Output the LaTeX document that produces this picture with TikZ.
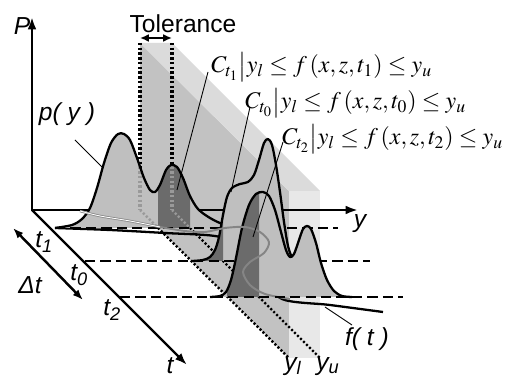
\documentclass[tikz,border=0pt]{standalone}
\usepackage{mathptmx}
\usepackage[no-math]{fontspec}
\setmainfont{Liberation Serif}
\newfontfamily\arial{Liberation Sans}
\usetikzlibrary{arrows.meta}
\definecolor{slabmid}{gray}{0.76}
\definecolor{slabtop}{gray}{0.86}
\definecolor{slabfront}{gray}{0.91}
\definecolor{distfill}{gray}{0.75}
\definecolor{distdark}{gray}{0.42}
\definecolor{seethru}{gray}{0.6}
\definecolor{tracegray}{gray}{0.52}
\def\tonepath{plot[smooth] coordinates{(55,228) (72,225) (82,219) (90,208) (97,188) (104,163) (111,143) (118,134) (124,134) (130,140) (137,158) (144,178) (150,190) (155,192) (160,185) (166,170) (171,165) (177,167) (183,178) (190,196) (198,209) (210,218) (225,225) (242,228)}}
\def\tzeropath{plot[smooth] coordinates{(192,261) (203,260) (210,257) (215,250) (219,237) (223,215) (227,197) (232,188) (240,184) (248,182) (254,175) (259,160) (264,143) (268,139) (272,145) (276,165) (280,192) (284,222) (288,246) (292,257) (298,261) (305,261)}}
\def\ttwopath{plot[smooth] coordinates{(210,297) (220,296) (226,292) (231,280) (236,258) (242,228) (249,205) (256,194) (263,192) (269,196) (275,210) (281,232) (286,250) (290,257) (294,254) (299,240) (303,229) (307,226) (311,229) (316,243) (321,263) (327,280) (334,291) (342,296) (352,297)}}
\begin{document}
\begin{tikzpicture}[x=0.02cm,y=-0.02cm,
  curve/.style={line width=1.3pt, line join=round},
  axisline/.style={line width=1.4pt},
  dashedbase/.style={line width=1.35pt, dash pattern=on 5.8pt off 3pt},
  dotedge/.style={line width=1.4pt, dash pattern=on 1.2pt off 1.2pt},
  tolline/.style={line width=1.9pt, dash pattern=on 1.4pt off 1.3pt},
  leader/.style={line width=0.5pt},
  lab/.style={font=\arial\itshape\fontsize{14}{16}\selectfont, inner sep=0pt},
  formula/.style={font=\fontsize{13.6}{15}\selectfont, inner sep=0pt, anchor=base west}
]
\useasboundingbox (0,0) rectangle (514,378);
% slab corners
\coordinate (BL) at (140,43); \coordinate (BU) at (172,43);
\coordinate (FL) at (289,191); \coordinate (FU) at (320,191);
\coordinate (BLb) at (140,210); \coordinate (BUb) at (172,210);
\coordinate (FLb) at (289,358); \coordinate (FUb) at (320,358);
\fill[slabmid] (BL) -- (FL) -- (FLb) -- (BLb) -- cycle;
\fill[slabtop] (BL) -- (BU) -- (FU) -- (FL) -- cycle;
\fill[slabfront] (FL) -- (FU) -- (FUb) -- (FLb) -- cycle;
\draw[tolline] (BL) -- (BLb);
\draw[tolline] (BU) -- (BUb);
\draw[dotedge] (BLb) -- (FLb);
\draw[dotedge] (BUb) -- (FUb);
% axes
\coordinate (O) at (32,210);
\coordinate (Ptip) at (32,17);
\coordinate (ytip) at (358,210);
\coordinate (ttip) at (187,365);
\draw[axisline, {Latex[length=7pt,width=5pt]}-{Latex[length=7pt,width=5pt]}] (Ptip) -- (O) -- (ytip);
\draw[axisline, -{Latex[length=7pt,width=5pt]}] (O) -- (ttip);
% f(t) curve
\draw[curve] plot[smooth] coordinates{(55,228) (110,230) (165,233) (215,236) (240,245) (262,275) (282,299) (330,305) (383,312)};
% t1 distribution
\fill[distfill] \tonepath -- cycle;
\begin{scope}\clip (158,0) rectangle (190,400); \fill[distdark] \tonepath -- cycle; \end{scope}
\begin{scope}\clip \tonepath -- cycle;
  \draw[tolline,seethru] (BL) -- (BLb);
  \draw[tolline,seethru] (BU) -- (BUb);
  \draw[dotedge,seethru] (BLb) -- (FLb);
  \draw[dotedge,seethru] (BUb) -- (FUb);
\end{scope}
\draw[curve] \tonepath;
\coordinate (d1a) at (55,228); \coordinate (d1b) at (338,228);
\draw[dashedbase] (d1a) -- (d1b);
% t0 distribution
\fill[distfill] \tzeropath -- cycle;
\begin{scope}\clip (191,0) rectangle (223,400); \fill[distdark] \tzeropath -- cycle; \end{scope}
\draw[curve] \tzeropath;
\coordinate (d0a) at (85,261); \coordinate (d0b) at (370,261);
\draw[dashedbase] (d0a) -- (d0b);
% t2 distribution
\fill[distfill] \ttwopath -- cycle;
\begin{scope}\clip (227,0) rectangle (259,400); \fill[distdark] \ttwopath -- cycle; \end{scope}
\draw[curve] \ttwopath;
% gray trace
\draw[tracegray, line width=0.45pt, double=white, double distance=0.5pt] plot[smooth] coordinates{(80,211) (100,216) (130,221) (160,227)};
\draw[tracegray, line width=1.1pt] plot[smooth] coordinates{(160,227) (185,231) (205,232) (225,228) (245,227) (260,232) (269,242) (264,253) (250,262) (243,272) (250,285) (265,294) (290,299)};
\coordinate (d2a) at (120,297); \coordinate (d2b) at (403,297);
\draw[dashedbase] (d2a) -- (d2b);
% tolerance arrow
\coordinate (TolL) at (140,38); \coordinate (TolR) at (172,38);
\draw[axisline, {Latex[length=5pt,width=4.5pt]}-{Latex[length=5pt,width=4.5pt]}] (TolL) -- (TolR);
\node[font=\arial\fontsize{14}{16}\selectfont, inner sep=0pt] (tol) at (183,24) {Tolerance};
% delta t arrow
\coordinate (dtA) at (13,228); \coordinate (dtB) at (83,300);
\draw[axisline, {Latex[length=6pt,width=4.5pt]}-{Latex[length=6pt,width=4.5pt]}] (dtA) -- (dtB);
% labels
\node[lab] (Plab) at (22,26) {P};
\node[lab, anchor=base] (ylab) at (360,228) {y};
\node[lab, anchor=base] (tlab) at (170,374) {t};
\node[lab, anchor=base west] (t1lab) at (35,248) {t\textsubscript{1}};
\node[lab, anchor=base west] (t0lab) at (70,281) {t\textsubscript{0}};
\node[lab, anchor=base west] (t2lab) at (103,316) {t\textsubscript{2}};
\node[lab] (dtlab) at (30,285) {Δt};
\node[lab, anchor=base] (pylab) at (67,121) {p( y )};
\node[lab, anchor=base] (ftlab) at (367,345) {f( t )};
\node[lab, anchor=base west] (yllab) at (284,370) {y\textsubscript{l}};
\node[lab, anchor=base west] (yulab) at (316,370) {y\textsubscript{u}};
% formulas
\node[formula] (C1) at (211,73) {$C_{t_1}\big|y_l \le f\,(x,z,t_1) \le y_u$};
\node[formula] (C0) at (245,109) {$C_{t_0}\big|y_l \le f\,(x,z,t_0) \le y_u$};
\node[formula] (C2) at (282,145) {$C_{t_2}\big|y_l \le f\,(x,z,t_2) \le y_u$};
% leaders
\coordinate (l1a) at (208,72); \coordinate (l1b) at (177,190);
\coordinate (l0a) at (250,107); \coordinate (l0b) at (231,192);
\coordinate (l2a) at (283,142); \coordinate (l2b) at (253,237);
\coordinate (lpa) at (75,140); \coordinate (lpb) at (103,168);
\coordinate (lfa) at (325,307); \coordinate (lfb) at (352,325);
\draw[leader] (l1a) -- (l1b);
\draw[leader] (l0a) -- (l0b);
\draw[leader] (l2a) -- (l2b);
\draw[leader] (lpa) -- (lpb);
\draw[leader] (lfa) -- (lfb);
\end{tikzpicture}
\end{document}
